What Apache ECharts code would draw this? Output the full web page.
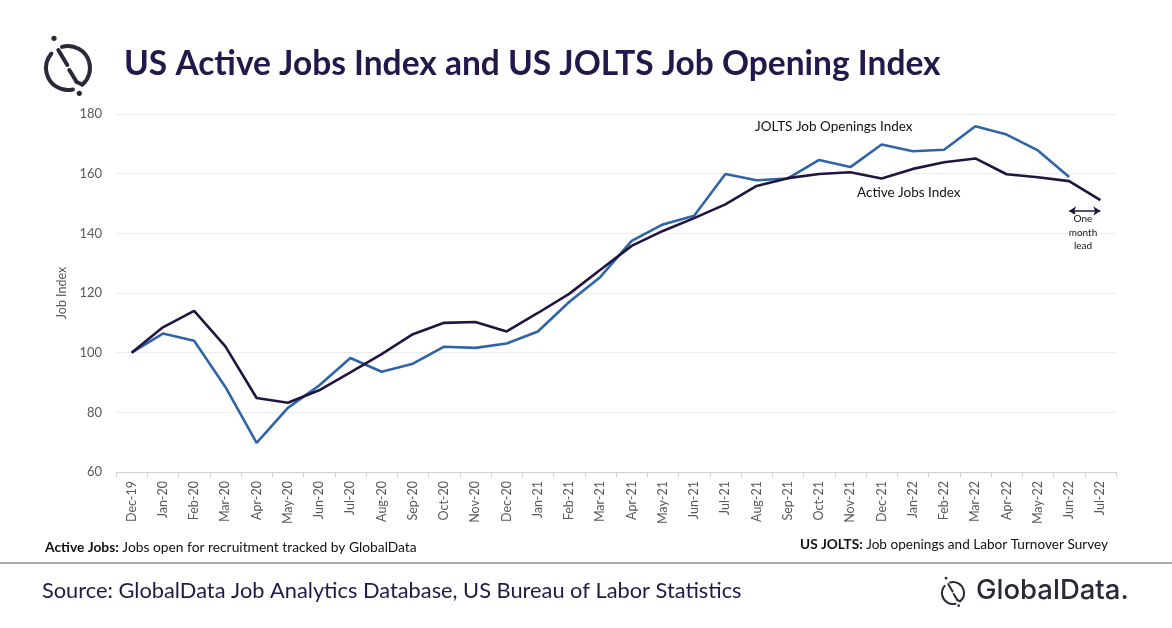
<!DOCTYPE html>
<html>
<head>
    <meta charset="utf-8">
    <script src="https://cdn.jsdelivr.net/npm/echarts@6/dist/echarts.min.js"></script>
    <style>
        html, body { margin: 0; padding: 0; background: #fff; }
        #echartsMain { width: 1172px; height: 628px; }
    </style>
</head>
<body>
<div id="echartsMain"></div>
</body>
</html>

<script type="text/javascript">
    // months on the x axis
    let months = ['Dec-19', 'Jan-20', 'Feb-20', 'Mar-20', 'Apr-20', 'May-20', 'Jun-20', 'Jul-20',
        'Aug-20', 'Sep-20', 'Oct-20', 'Nov-20', 'Dec-20', 'Jan-21', 'Feb-21', 'Mar-21', 'Apr-21',
        'May-21', 'Jun-21', 'Jul-21', 'Aug-21', 'Sep-21', 'Oct-21', 'Nov-21', 'Dec-21', 'Jan-22',
        'Feb-22', 'Mar-22', 'Apr-22', 'May-22', 'Jun-22', 'Jul-22']

    let activeJobs = [100, 108.5, 114, 102.1, 84.8, 83.2, 87.4, 93.4, 99.5, 106.2, 110, 110.3,
        107.1, 113.3, 119.7, 127.8, 135.8, 140.8, 145.1, 149.7, 155.9, 158.5, 159.9, 160.5,
        158.4, 161.6, 163.8, 165.1, 159.8, 158.8, 157.5, 151.1]

    // JOLTS has no Jul-22 value yet
    let joltsOpenings = [100, 106.4, 104, 88.5, 69.8, 81.5, 89, 98.2, 93.6, 96.3, 102, 101.6,
        103.1, 107.1, 117, 125.4, 137.5, 143, 145.9, 159.9, 157.8, 158.4, 164.6, 162.2,
        169.8, 167.5, 168, 175.9, 173.1, 167.8, 158.9, null]

    let yTicks = {min: 60, max: 180, interval: 20}

    let leadWords = ['One', 'month', 'lead']

    let darkColor = '#211440'
    let blueColor = '#2f65a7'
    let logoColor = '#2b2839'
    let titleColor = '#24184a'

    function logo(cx, cy, s) {
        // GlobalData mark: broken circle, slash and two dots
        let st = {stroke: logoColor, lineWidth: 4 * s, fill: null, lineCap: 'round'}
        let deg = Math.PI / 180
        return [
            {type: 'arc', shape: {cx: cx, cy: cy, r: 22 * s, startAngle: -106 * deg, endAngle: 49 * deg}, style: st},
            {type: 'arc', shape: {cx: cx, cy: cy, r: 22 * s, startAngle: 77 * deg, endAngle: 221 * deg}, style: st},
            {type: 'line', shape: {x1: cx - 9.7 * s, y1: cy - 18 * s, x2: cx - 0.7 * s, y2: cy - 3 * s}, style: st},
            {type: 'line', shape: {x1: cx + 1.3 * s, y1: cy + 2 * s, x2: cx + 8.7 * s, y2: cy + 14 * s}, style: st},
            {type: 'line', shape: {x1: cx + 8.7 * s, y1: cy + 14 * s, x2: cx + 14 * s, y2: cy + 16.5 * s}, style: st},
            {type: 'circle', shape: {cx: cx - 14 * s, cy: cy - 29.7 * s, r: 2.6 * s}, style: {fill: logoColor}},
            {type: 'circle', shape: {cx: cx + 11.3 * s, cy: cy + 25.3 * s, r: 2.6 * s}, style: {fill: logoColor}}
        ]
    }

    function draw() {
        let myChart = echarts.init(document.getElementById('echartsMain'))

        let graphics = logo(68, 68, 1).concat(logo(953, 593, 0.5))
        leadWords.forEach((w, i) => {
            graphics.push({
                type: 'text', x: 1083, y: 219 + i * 13.5, z: 100,
                style: {text: w, fill: '#111', font: '10px Lato', align: 'center',
                    verticalAlign: 'middle', backgroundColor: '#fff', padding: [0, 1]}
            })
        })
        graphics = graphics.concat([
            {
                type: 'text', left: 124, top: 47,
                style: {text: 'US Active Jobs Index and US JOLTS Job Opening Index', fill: titleColor,
                    font: 'bold 33.5px Lato'}
            },
            {
                type: 'text', left: 755, top: 120,
                style: {text: 'JOLTS Job Openings Index', fill: '#111', font: '13.5px Lato'}
            },
            {
                type: 'text', left: 857, top: 186,
                style: {text: 'Active Jobs Index', fill: '#111', font: '13.5px Lato'}
            },
            {
                type: 'text', left: 45, top: 541,
                style: {
                    text: '{b|Active Jobs:} Jobs open for recruitment tracked by GlobalData',
                    font: '13.8px Lato', fill: '#111',
                    rich: {b: {fontWeight: 'bold', fontSize: 13.8, fontFamily: 'Lato', fill: '#111'}}
                }
            },
            {
                type: 'text', right: 64, top: 538,
                style: {
                    text: '{b|US JOLTS:} Job openings and Labor Turnover Survey',
                    font: '13.6px Lato', fill: '#111',
                    rich: {b: {fontWeight: 'bold', fontSize: 13.6, fontFamily: 'Lato', fill: '#111'}}
                }
            },
            {
                type: 'line', shape: {x1: 0, y1: 563, x2: 1172, y2: 563},
                style: {stroke: '#8c8c8c', lineWidth: 1.5}
            },
            {
                type: 'text', left: 42, top: 580,
                style: {text: 'Source: GlobalData Job Analytics Database, US Bureau of Labor Statistics',
                    fill: titleColor, font: '21.8px Lato'}
            },
            {
                type: 'text', left: 976, top: 577,
                style: {text: 'GlobalData.', fill: logoColor, font: '500 27.5px Inter'}
            }
        ])

        var option = {
            backgroundColor: '#fff',
            animation: false,
            textStyle: {fontFamily: 'Lato'},
            grid: {left: 116, right: 56, top: 114, bottom: 156},
            xAxis: {
                type: 'category',
                data: months,
                boundaryGap: true,
                axisLine: {lineStyle: {color: '#d0d0d0', width: 1}},
                axisTick: {show: true, length: 5, lineStyle: {color: '#d0d0d0'}},
                axisLabel: {rotate: 90, interval: 0, color: '#595959', fontSize: 12.5, margin: 9}
            },
            yAxis: {
                type: 'value',
                min: yTicks.min,
                max: yTicks.max,
                interval: yTicks.interval,
                name: 'Job Index',
                nameLocation: 'middle',
                nameGap: 48,
                nameTextStyle: {color: '#595959', fontSize: 12.5},
                axisLine: {show: false},
                axisTick: {show: false},
                axisLabel: {color: '#595959', fontSize: 13, margin: 14},
                splitLine: {lineStyle: {color: '#ececec', width: 1}}
            },
            series: [
                {
                    name: 'JOLTS Job Openings Index',
                    type: 'line',
                    data: joltsOpenings,
                    symbol: 'none',
                    lineStyle: {color: blueColor, width: 2.6},
                    z: 2
                },
                {
                    name: 'Active Jobs Index',
                    type: 'line',
                    data: activeJobs,
                    symbol: 'none',
                    lineStyle: {color: darkColor, width: 2.6},
                    z: 3,
                    markLine: {
                        silent: true,
                        symbol: ['arrow', 'arrow'],
                        symbolSize: [7, 7],
                        label: {show: false},
                        lineStyle: {color: darkColor, width: 1.5, type: 'solid'},
                        data: [[{coord: ['Jun-22', 147.5]}, {coord: ['Jul-22', 147.5]}]]
                    }
                }
            ],
            graphic: graphics
        }
        myChart.setOption(option)
    }

    draw()
</script>
